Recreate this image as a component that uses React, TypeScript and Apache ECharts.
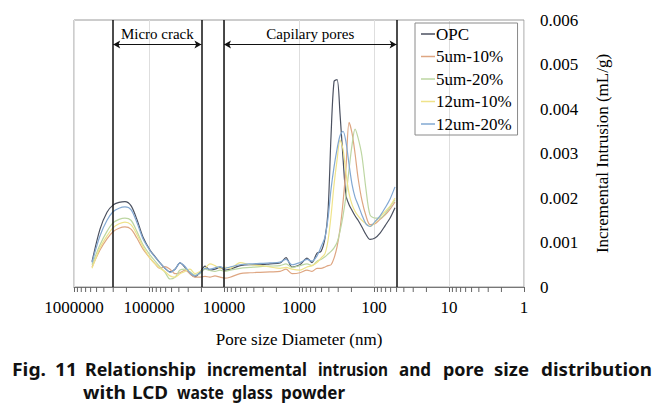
import React, { useEffect, useRef } from 'react';
import * as echarts from 'echarts';

// Pore diameter (nm) sample points shared by all series
const diameters = [
  575000, 450000, 363000, 302000, 251000, 209000, 174000, 145000, 120000, 97000,
  83000, 71300, 61200, 52500, 45000, 38600, 33100, 28400, 24400, 20900,
  17900, 15400, 13200, 11300, 9700, 8300, 6100, 4500, 3300, 2440,
  1790, 1490, 1240, 970, 782, 671, 575, 509, 450, 410,
  374, 341, 311, 284, 259, 236, 215, 196, 179, 163,
  145, 128, 113, 97, 83, 71, 61, 52.5,
];

const seriesNames = ['OPC', '5um-10%', '5um-20%', '12um-10%', '12um-20%'];

const opc = [
  0.00057, 0.0013, 0.00168, 0.00184, 0.0019, 0.00192, 0.00183, 0.00152, 0.00112, 0.00083,
  0.00068, 0.00054, 0.00042, 0.00034, 0.0004, 0.00054, 0.00044, 0.0003, 0.00023, 0.00033,
  0.00047, 0.00038, 0.0004, 0.00044, 0.00038, 0.0004, 0.00048, 0.0005, 0.0005, 0.00052,
  0.00054, 0.00066, 0.00045, 0.0005, 0.00065, 0.00055, 0.00076, 0.0008, 0.0011, 0.0017,
  0.0034, 0.00462, 0.00466, 0.0039, 0.0029, 0.00205, 0.00185, 0.00172, 0.0016, 0.0015,
  0.00135, 0.00118, 0.00107, 0.0011, 0.00121, 0.00138, 0.00155, 0.00178,
];

const um5p10 = [
  0.00045, 0.00083, 0.00108, 0.00124, 0.00132, 0.00135, 0.0013, 0.0011, 0.00085, 0.00065,
  0.00052, 0.00042, 0.00046, 0.0004, 0.0003, 0.00032, 0.00038, 0.0003, 0.00022, 0.00022,
  0.00024, 0.00022, 0.00025, 0.00022, 0.0002, 0.00022, 0.0003, 0.00032, 0.00033, 0.00034,
  0.00035, 0.0004, 0.0003, 0.00032, 0.00038, 0.00035, 0.00042, 0.00042, 0.00045, 0.00048,
  0.0005, 0.00065, 0.0009, 0.0013, 0.0019, 0.0027, 0.0037, 0.00345, 0.003, 0.00245,
  0.00195, 0.0016, 0.0014, 0.00142, 0.00152, 0.00162, 0.00175, 0.00191,
];

const um5p20 = [
  0.0005, 0.00095, 0.00125, 0.00144, 0.00152, 0.00155, 0.0015, 0.00125, 0.00095, 0.00072,
  0.00058, 0.00045, 0.00033, 0.00018, 0.00022, 0.00038, 0.0004, 0.00034, 0.00027, 0.0003,
  0.0004, 0.00037, 0.00035, 0.00038, 0.00035, 0.00038, 0.00042, 0.00044, 0.00046, 0.00047,
  0.00048, 0.00052, 0.00044, 0.00048, 0.00052, 0.00048, 0.00058, 0.00062, 0.00068, 0.00074,
  0.0008, 0.00088, 0.001, 0.00125, 0.0016, 0.00205, 0.00265, 0.0032, 0.00355, 0.00335,
  0.00295, 0.0022, 0.00162, 0.00155, 0.00155, 0.00165, 0.0018, 0.00196,
];

const um12p10 = [
  0.00042, 0.00088, 0.00115, 0.00133, 0.00142, 0.00146, 0.0014, 0.00118, 0.0009, 0.00065,
  0.00052, 0.00042, 0.00035, 0.00025, 0.00022, 0.0003, 0.00035, 0.0004, 0.0003, 0.00035,
  0.00042, 0.00052, 0.00048, 0.00042, 0.00045, 0.00042, 0.00055, 0.0005, 0.00048, 0.00045,
  0.00042, 0.00044, 0.0004, 0.00038, 0.00045, 0.00048, 0.00055, 0.00065, 0.00075, 0.00105,
  0.0016, 0.0023, 0.00285, 0.0033, 0.0031, 0.00255, 0.0021, 0.00185, 0.0017, 0.0016,
  0.0015, 0.00142, 0.00136, 0.00145, 0.00158, 0.0017, 0.00182, 0.002,
];

const um12p20 = [
  0.00055, 0.00115, 0.0015, 0.00169, 0.00177, 0.0018, 0.00174, 0.00145, 0.00108, 0.00082,
  0.00067, 0.00054, 0.00042, 0.00033, 0.0004, 0.00054, 0.00046, 0.00032, 0.00025, 0.00032,
  0.00042, 0.0004, 0.00043, 0.00046, 0.00042, 0.00045, 0.0005, 0.00052, 0.00053, 0.00054,
  0.00056, 0.00062, 0.0005, 0.00055, 0.00062, 0.00058, 0.0007, 0.0009, 0.00112, 0.00155,
  0.0022, 0.0027, 0.0031, 0.0034, 0.0035, 0.00325, 0.00275, 0.0023, 0.00202, 0.00185,
  0.00162, 0.00142, 0.00136, 0.00147, 0.0016, 0.00178, 0.00198, 0.00225,
];

const seriesValues = [opc, um5p10, um5p20, um12p10, um12p20];
const seriesColors = ['#4b5160', '#dea682', '#bdd6a2', '#efe38a', '#82a8d2'];

// Region boundaries (nm) and annotations
const boundaryLines = [300000, 20000, 10000, 50];
const microCrack = { name: 'Micro crack', from: 300000, to: 20000, level: 0.00545 };
const capillary = { name: 'Capilary pores', from: 10000, to: 50, level: 0.00545 };

const xTickValues = [1, 10, 100, 1000, 10000, 100000, 1000000];
const yTickLabels = ['0', '0.001', '0.002', '0.003', '0.004', '0.005', '0.006'];

const xTitle = 'Pore size Diameter (nm)';
const yTitle = 'Incremental Intrusion (mL/g)';
const captionLine1 = ['Fig.', '11', 'Relationship', 'incremental', 'intrusion', 'and', 'pore', 'size', 'distribution'];
const captionLine2 = ['with', 'LCD', 'waste', 'glass', 'powder'];

const SERIF = "'Liberation Serif', 'Times New Roman', serif";
const SANS = "'Noto Sans', 'Open Sans', sans-serif";

export default function App() {
  const ref = useRef<HTMLDivElement>(null);

  useEffect(() => {
    const chart = echarts.init(ref.current!, null, { renderer: 'svg' });

    // minor ticks of the logarithmic axis (2..9 within each decade)
    const minorTicks: number[][] = [];
    for (let k = 0; k < 6; k++) {
      for (let m = 2; m <= 9; m++) minorTicks.push([m * Math.pow(10, k), 0]);
    }

    // caption word extents [left, right] in pixels (justified layout)
    const cap1Span = [[12, 46], [55, 77], [85, 196], [207, 307], [318, 388], [399, 431], [443, 484], [494, 529], [541, 652]];
    const cap2Span = [[83, 126], [132, 168], [177, 224], [232, 273], [281, 345]];
    const capFont = `bold 18px ${SANS}`;
    const ctx = document.createElement('canvas').getContext('2d');
    const measure = (t: string) => {
      if (!ctx) return 0;
      ctx.font = capFont;
      return ctx.measureText(t).width;
    };

    const graphic: any[] = [];
    const addWord = (w: string, span: number[], y: number) => {
      const target = span[1] - span[0];
      const mw = measure(w);
      const sx = mw > 0 ? Math.min(1.1, Math.max(0.75, target / mw)) : 1;
      graphic.push({
        type: 'text', x: (span[0] + span[1]) / 2, y, scaleX: sx,
        style: { text: w, font: capFont, fill: '#111', textAlign: 'center', textVerticalAlign: 'middle' },
      });
    };
    captionLine1.forEach((w, i) => addWord(w, cap1Span[i], 369));
    captionLine2.forEach((w, i) => addWord(w, cap2Span[i], 392));

    const lineSeries = seriesNames.map((name, si) => ({
      name,
      type: 'line',
      data: diameters.map((d, i) => [d, seriesValues[si][i]]),
      showSymbol: false,
      symbol: 'none',
      smooth: 0.3,
      lineStyle: { width: 1.2, color: seriesColors[si] },
      itemStyle: { color: seriesColors[si] },
      z: 3,
    }));

    const option: any = {
      animation: false,
      backgroundColor: '#fff',
      color: seriesColors,
      grid: {
        left: 74, top: 20, width: 450, height: 267,
        show: true, borderColor: '#9a9a9a', borderWidth: 1, backgroundColor: 'transparent',
        outerBoundsMode: 'none',
      },
      legend: {
        data: seriesNames,
        orient: 'vertical',
        left: 415, top: 23,
        borderColor: '#8a8a8a', borderWidth: 1,
        padding: [0, 6, 0, 6],
        itemGap: 0.5,
        itemWidth: 14, itemHeight: 1.5,
        icon: 'rect',
        textStyle: { fontFamily: SERIF, fontSize: 17, color: '#000', lineHeight: 22, padding: [0, 0, 0, -4] },
      },
      xAxis: {
        type: 'log', logBase: 10, min: 1, max: 1000000, inverse: true,
        name: xTitle, nameLocation: 'middle', nameGap: 44,
        nameTextStyle: { fontFamily: SERIF, fontSize: 17, color: '#000' },
        axisLine: { show: true, lineStyle: { color: '#777', width: 1 } },
        axisTick: { show: true, length: 5, lineStyle: { color: '#666' } },
        axisLabel: {
          fontFamily: SERIF, fontSize: 17, color: '#000', margin: 12,
          formatter: (v: number) => {
            const r = xTickValues.find((t) => Math.abs(t - v) / t < 1e-6);
            return r !== undefined ? String(r) : '';
          },
        },
        splitLine: { show: true, lineStyle: { color: '#dedede', width: 1 } },
        minorTick: { show: false },
      },
      yAxis: {
        type: 'value', position: 'right', min: 0, max: 0.006, interval: 0.001,
        name: yTitle, nameLocation: 'middle', nameGap: 70, nameRotate: 90,
        nameTextStyle: { fontFamily: SERIF, fontSize: 17, color: '#000' },
        axisLine: { show: false },
        axisTick: { show: false },
        splitLine: { show: false },
        axisLabel: {
          fontFamily: SERIF, fontSize: 17, color: '#000', margin: 16,
          formatter: (v: number) => yTickLabels[Math.round(v / 0.001)] ?? '',
        },
      },
      series: [
        ...lineSeries,
        {
          name: 'minorTicks',
          type: 'custom',
          data: minorTicks,
          clip: false,
          silent: true,
          z: 5,
          renderItem: (_p: any, api: any) => {
            const pt = api.coord([api.value(0), 0]);
            return {
              type: 'line',
              shape: { x1: pt[0], y1: pt[1], x2: pt[0], y2: pt[1] + 5 },
              style: { stroke: '#666', lineWidth: 1 },
            };
          },
        },
        {
          name: 'boundaries',
          type: 'line',
          data: [],
          silent: true,
          markLine: {
            silent: true,
            symbol: 'none',
            animation: false,
            label: { show: false },
            lineStyle: { color: '#111', width: 1.5, type: 'solid' },
            data: boundaryLines.map((v) => ({ xAxis: v })),
          },
        },
        {
          name: 'arrows',
          type: 'line',
          data: [],
          silent: true,
          markLine: {
            silent: true,
            symbol: ['arrow', 'arrow'],
            symbolSize: [6, 7],
            animation: false,
            lineStyle: { color: '#111', width: 1, type: 'solid' },
            label: {
              show: true, position: 'middle', formatter: '{b}', distance: 3,
              fontFamily: SERIF, fontSize: 15, color: '#000',
            },
            data: [microCrack, capillary].map((a) => [
              { name: a.name, coord: [a.from, a.level] },
              { name: a.name, coord: [a.to, a.level] },
            ]),
          },
        },
      ],
      graphic,
    };

    chart.setOption(option);
    return () => chart.dispose();
  }, []);

  return (
    <div
      ref={ref}
      style={{ position: 'absolute', left: 0, top: 0, width: 665, height: 407, background: '#fff' }}
    />
  );
}
